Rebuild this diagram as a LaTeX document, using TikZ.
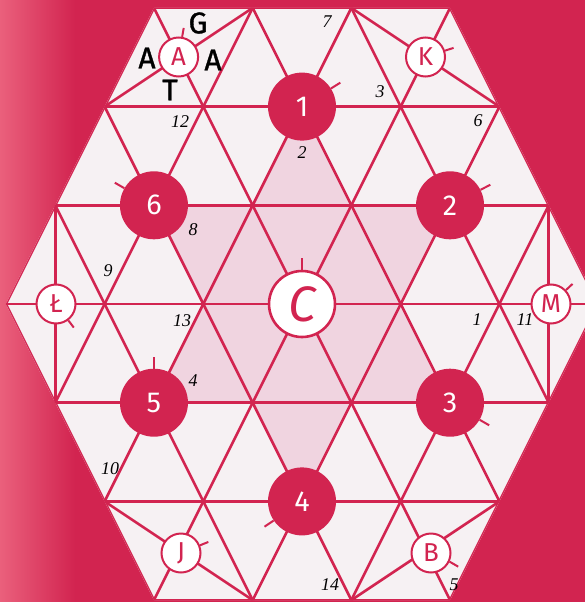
\documentclass[tikz,border=0pt]{standalone}
\usepackage{fontspec}
\setmainfont{Liberation Serif}
\newfontfamily\lblfont{Fira Sans}
\newfontfamily\gatafont[FakeBold=1.2]{Fira Sans}
\definecolor{crim}{RGB}{210,36,80}
\definecolor{crimlight}{RGB}{234,96,124}
\definecolor{boardc}{RGB}{246,241,243}
\definecolor{pinkc}{RGB}{240,212,224}
\begin{document}
\begin{tikzpicture}[x=1bp,y=-1bp,
  grid/.style={draw=crim, line width=2.6bp},
  bigc/.style={circle, fill=crim, minimum size=68bp, inner sep=0pt, text=white,
    font=\lblfont\fontsize{29}{30}\selectfont},
  centc/.style={circle, draw=crim, line width=2.6bp, fill=white, minimum size=66bp, inner sep=0pt,
    text=crim, font=\lblfont\itshape\fontsize{50}{52}\selectfont},
  smallc/.style={circle, draw=crim, line width=2bp, fill=white, minimum size=39bp, inner sep=0pt,
    text=crim, font=\lblfont\fontsize{26}{27}\selectfont},
  tick/.style={draw=crim, line width=2bp},
  num/.style={inner sep=0pt, text=black, font=\itshape\fontsize{18}{19}\selectfont},
  gata/.style={inner sep=0pt, text=black, font=\gatafont\fontsize{30}{31}\selectfont}]
\useasboundingbox (0,0) rectangle (585,602);
\fill[crim] (0,0) rectangle (585,602);
\shade[left color=crimlight, right color=crim] (0,0) rectangle (75,602);

\begin{scope}[shift={(302bp,-304bp)}, x={(49.35bp,0bp)}, y={(0bp,-98.7bp)}]
  \fill[boardc] (-3,-3) -- (3,-3) -- (6,0) -- (3,3) -- (-3,3) -- (-6,0) -- cycle;
  \fill[pinkc] (0,-2) -- (1,-1) -- (3,-1) -- (2,0) -- (3,1) -- (1,1) -- (0,2) -- (-1,1)
     -- (-3,1) -- (-2,0) -- (-3,-1) -- (-1,-1) -- cycle;
  \begin{scope}
    \clip (-3,-3) -- (3,-3) -- (6,0) -- (3,3) -- (-3,3) -- (-6,0) -- cycle;
    \foreach \r in {-3,...,3} \draw[grid] (-7,\r) -- (7,\r);
    \foreach \c in {-10,-8,...,10} {
      \draw[grid] (\c-4,-4) -- (\c+4,4);
      \draw[grid] (\c+4,-4) -- (\c-4,4);
    }
    % corner diagonals
    \draw[grid] (-1,-3) -- (-4,-2);
    \draw[grid] (1,-3) -- (4,-2);
    \draw[grid] (5,-1) -- (5,1);
    \draw[grid] (4,2) -- (1,3);
    \draw[grid] (-4,2) -- (-1,3);
    \draw[grid] (-5,-1) -- (-5,1);
  \end{scope}
  \coordinate (P1) at (0,-2);
  \coordinate (P2) at (3,-1);
  \coordinate (P3) at (3,1);
  \coordinate (P4) at (0,2);
  \coordinate (P5) at (-3,1);
  \coordinate (P6) at (-3,-1);
  \coordinate (PC) at (0,0);
\end{scope}

% numbered circles
\node[bigc] (n1) at (P1) {1};
\node[bigc] (n2) at (P2) {2};
\node[bigc] (n3) at (P3) {3};
\node[bigc] (n4) at (P4) {4};
\node[bigc] (n5) at (P5) {5};
\node[bigc] (n6) at (P6) {6};
\node[centc] (nc) at (PC) {C};
\draw[tick] (n1.32) -- ++(32:11bp);
\draw[tick] (n2.27) -- ++(27:11bp);
\draw[tick] (n3.-30) -- ++(-30:11bp);
\draw[tick] (n4.214) -- ++(214:11bp);
\draw[tick] (n5.90) -- ++(90:12bp);
\draw[tick] (n6.150) -- ++(150:11bp);
\draw[tick] (nc.90) -- ++(90:12bp);

% letter circles
\node[smallc] (la) at (178.6,57) {A};
\node[smallc] (lk) at (425.5,57) {K};
\node[smallc] (lm) at (551,304) {M};
\node[smallc] (lb) at (431,553) {B};
\node[smallc] (lj) at (181,553) {J};
\node[smallc] (ll) at (56,304) {Ł};
\draw[tick] (la.80) -- ++(80:9bp);
\draw[tick] (lk.18) -- ++(18:9bp);
\draw[tick] (lm.43) -- ++(43:9bp);
\draw[tick] (lb.-25) -- ++(-30:10bp);
\draw[tick] (lj.22) -- ++(22:9bp);
\draw[tick] (ll.-53) -- ++(-53:9bp);

% GATA letters
\node[gata] (tg) at (198,23) {G};
\node[gata] (ta1) at (147,58) {A};
\node[gata] (ta2) at (213,60) {A};
\node[gata] (tt) at (170,90) {T};

% small numbers
\node[num] (m7) at (327,22) {7};
\node[num] (m3) at (380,92) {3};
\node[num] (m12) at (180,122) {12};
\node[num] (m2) at (302,153) {2};
\node[num] (m6) at (478,121) {6};
\node[num] (m8) at (193,230) {8};
\node[num] (m9) at (108,271) {9};
\node[num] (m13) at (182,321) {13};
\node[num] (m1) at (477,320) {1};
\node[num] (m11) at (525,320) {11};
\node[num] (m4) at (193,381) {4};
\node[num] (m10) at (110,469) {10};
\node[num] (m14) at (330,585) {14};
\node[num] (m5) at (454,585) {5};
\end{tikzpicture}
\end{document}
